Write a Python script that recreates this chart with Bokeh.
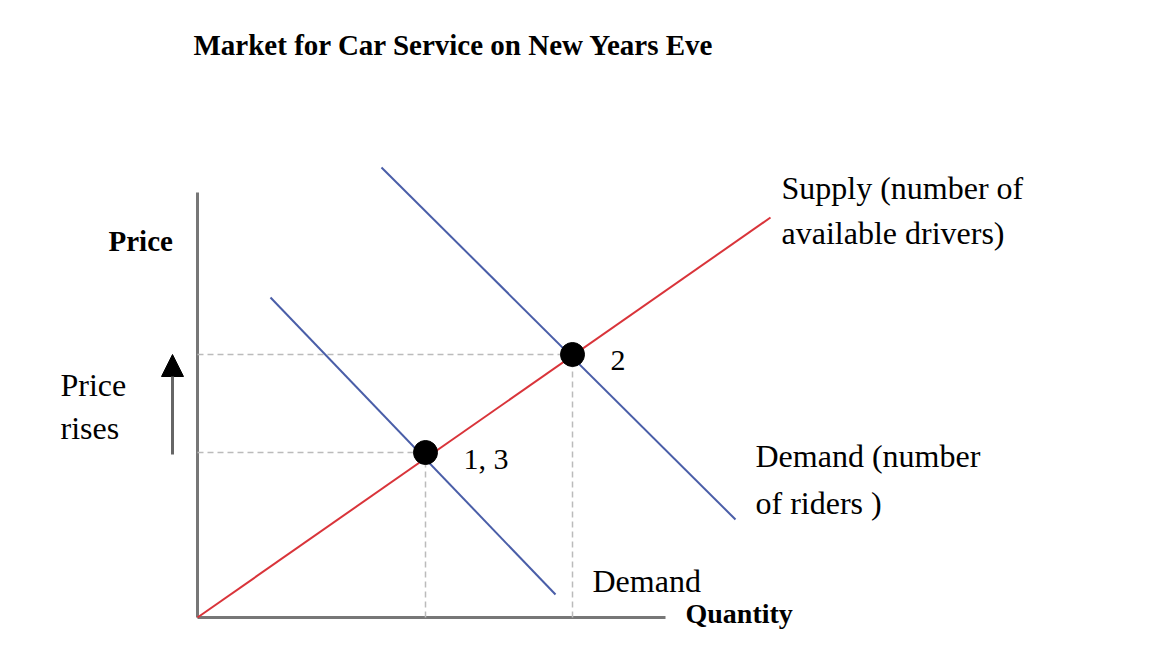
from bokeh.plotting import figure
from bokeh.models import Range1d, Arrow, NormalHead
from bokeh.core.properties import value
from bokeh.embed import file_html
from bokeh.resources import INLINE

# quantity / price units (origin at the axes corner)
supply_q = [0, 573]
supply_p = [0, 400]
demand1_q = [73, 358]
demand1_p = [320, 23]
demand2_q = [184, 538]
demand2_p = [450, 98]
eq_q = [228, 375]
eq_p = [165, 263]
eq_labels = ["1, 3", "2"]

p = figure(width=1134, height=630, x_range=Range1d(-197, 937), y_range=Range1d(-13, 617),
           output_backend="svg", toolbar_location=None, min_border=0)
p.axis.visible = False
p.grid.visible = False
p.outline_line_color = None
p.background_fill_color = "white"

serif = value("Liberation Serif")

# axes
p.line([0, 0], [0, 425], line_color="#777777", line_width=3)
p.line([0, 468], [0, 0], line_color="#777777", line_width=3)

# dashed guides
for q, pr in zip(eq_q, eq_p):
    p.line([0, q], [pr, pr], line_color="#bbbbbb", line_width=1.5, line_dash="6 4")
    p.line([q, q], [0, pr], line_color="#bbbbbb", line_width=1.5, line_dash="6 4")

p.line(supply_q, supply_p, line_color="#d9343a", line_width=2)
p.line(demand1_q, demand1_p, line_color="#4a5ea8", line_width=2)
p.line(demand2_q, demand2_p, line_color="#4a5ea8", line_width=2)
p.scatter(eq_q, eq_p, size=24, color="black")

p.text([q + 38 for q in eq_q], [pr - 6 for pr in eq_p], text=eq_labels, text_font=serif,
       text_font_size="30px", text_baseline="middle")

# price rises arrow
p.add_layout(Arrow(end=NormalHead(size=22, fill_color="black", line_color="black"),
                   x_start=-25, y_start=163, x_end=-25, y_end=263,
                   line_color="#666666", line_width=3))

p.text([-4], [573], text=["Market for Car Service on New Years Eve"], text_font=serif,
       text_font_style="bold", text_font_size="29px", text_baseline="middle")
p.text([-89], [377], text=["Price"], text_font=serif, text_font_style="bold",
       text_font_size="29px", text_baseline="middle")
p.text([-137, -137], [233, 190], text=["Price", "rises"], text_font=serif,
       text_font_size="32px", text_baseline="middle")
p.text([584, 584], [430, 385], text=["Supply (number of", "available drivers)"], text_font=serif,
       text_font_size="32px", text_baseline="middle")
p.text([558, 558], [162, 115], text=["Demand (number", "of riders )"], text_font=serif,
       text_font_size="32px", text_baseline="middle")
p.text([395], [37], text=["Demand"], text_font=serif, text_font_size="32px", text_baseline="middle")
p.text([488], [4], text=["Quantity"], text_font=serif, text_font_style="bold",
       text_font_size="28px", text_baseline="middle")

open("out.html", "w").write(file_html(p, INLINE))
